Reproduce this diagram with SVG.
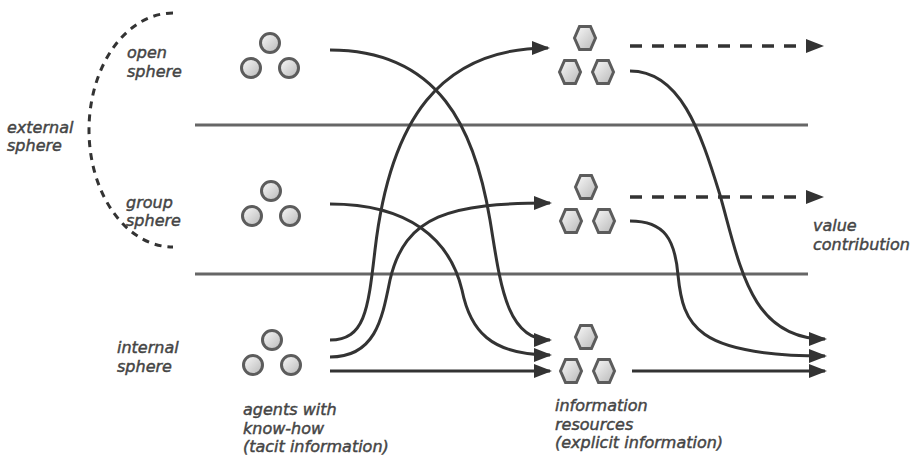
<svg xmlns="http://www.w3.org/2000/svg" xmlns:xlink="http://www.w3.org/1999/xlink" width="922" height="457" viewBox="0 0 922 457">
<defs>
<style>
.lbl{font-family:"DejaVu Sans","Liberation Sans",sans-serif;font-style:italic;font-size:16px;fill:#454545;stroke:#454545;stroke-width:0.45;}
.sep{stroke:#666;stroke-width:3;fill:none;}
.flow{stroke:#333;stroke-width:3;fill:none;marker-end:url(#ah);}
.dflow{stroke:#333;stroke-width:3.5;fill:none;stroke-dasharray:12 10;marker-end:url(#ah);}
.ext{stroke:#333;stroke-width:3;fill:none;stroke-dasharray:7 6;}
.ball{fill:url(#g);stroke:#5c5c5c;stroke-width:3;}
</style>
<linearGradient id="g" x1="0" y1="0" x2="1" y2="1">
<stop offset="0" stop-color="#fafafa"/>
<stop offset="1" stop-color="#b8b8b8"/>
</linearGradient>
<marker id="ah" viewBox="0 0 18 14" refX="16" refY="7" markerWidth="18" markerHeight="14" markerUnits="userSpaceOnUse" orient="auto">
<path d="M0,0 L18,7 L0,14 Z" fill="#333"/>
</marker>
<g id="tri">
<circle class="ball" cx="0" cy="0" r="9.5"/>
<circle class="ball" cx="-19" cy="25" r="9.5"/>
<circle class="ball" cx="19" cy="25" r="9.5"/>
</g>
<polygon id="hx" class="ball" points="-10.5,0 -5.5,-11.5 5.5,-11.5 10.5,0 5.5,11.5 -5.5,11.5"/>
<g id="hex3">
<use xlink:href="#hx" x="0" y="0"/>
<use xlink:href="#hx" x="-15" y="34"/>
<use xlink:href="#hx" x="18" y="34"/>
</g>
</defs>
<rect width="922" height="457" fill="#fff"/>

<g id="separators">
<line class="sep" x1="195" y1="125" x2="808" y2="125"/>
<line class="sep" x1="195" y1="274" x2="808" y2="274"/>
</g>

<g id="external-sphere">
<path class="ext" d="M173,13 A84 117 0 0 0 173,247"/>
<text class="lbl" x="7" y="133">external</text>
<text class="lbl" x="7" y="151">sphere</text>
</g>

<g id="sphere-labels">
<text class="lbl" x="127" y="58">open</text>
<text class="lbl" x="127" y="77">sphere</text>
<text class="lbl" x="126" y="208">group</text>
<text class="lbl" x="126" y="226">sphere</text>
<text class="lbl" x="117" y="353">internal</text>
<text class="lbl" x="117" y="372">sphere</text>
</g>

<g id="agents-open"><use xlink:href="#tri" x="270" y="43"/></g>
<g id="agents-group"><use xlink:href="#tri" x="271" y="191"/></g>
<g id="agents-internal"><use xlink:href="#tri" x="272" y="340"/></g>

<g id="resources-open"><use xlink:href="#hex3" x="585" y="38"/></g>
<g id="resources-group"><use xlink:href="#hex3" x="586" y="187"/></g>
<g id="resources-internal"><use xlink:href="#hex3" x="586" y="337"/></g>

<g id="connectors">
<path class="flow" d="M330,50 C440,50 475,130 490,220 C500,280 505,340 550,340"/>
<path class="flow" d="M330,340 C365,340 368,310 375,250 C390,120 440,48 548,48"/>
<path class="flow" d="M330,357 C375,357 382,320 390,280 C405,215 450,203 550,203"/>
<path class="flow" d="M330,204 C410,204 450,240 462,290 C470,330 490,355 550,355"/>
<path class="flow" d="M330,371 L550,371"/>
<path class="flow" d="M630,71 C680,71 700,130 720,195 C740,265 750,339 825,339"/>
<path class="flow" d="M630,221 C665,221 675,240 678,275 C683,325 695,356 825,356"/>
<path class="flow" d="M632,371 L825,371"/>
<path class="dflow" d="M630,46 L822,46"/>
<path class="dflow" d="M630,197 L822,197"/>
</g>

<g id="column-labels">
<text class="lbl" x="243" y="415">agents with</text>
<text class="lbl" x="243" y="433.5">know-how</text>
<text class="lbl" x="243" y="452">(tacit information)</text>
<text class="lbl" x="555" y="411">information</text>
<text class="lbl" x="555" y="429.5">resources</text>
<text class="lbl" x="555" y="448">(explicit information)</text>
<text class="lbl" x="813" y="231">value</text>
<text class="lbl" x="813" y="249.5">contribution</text>
</g>
</svg>
